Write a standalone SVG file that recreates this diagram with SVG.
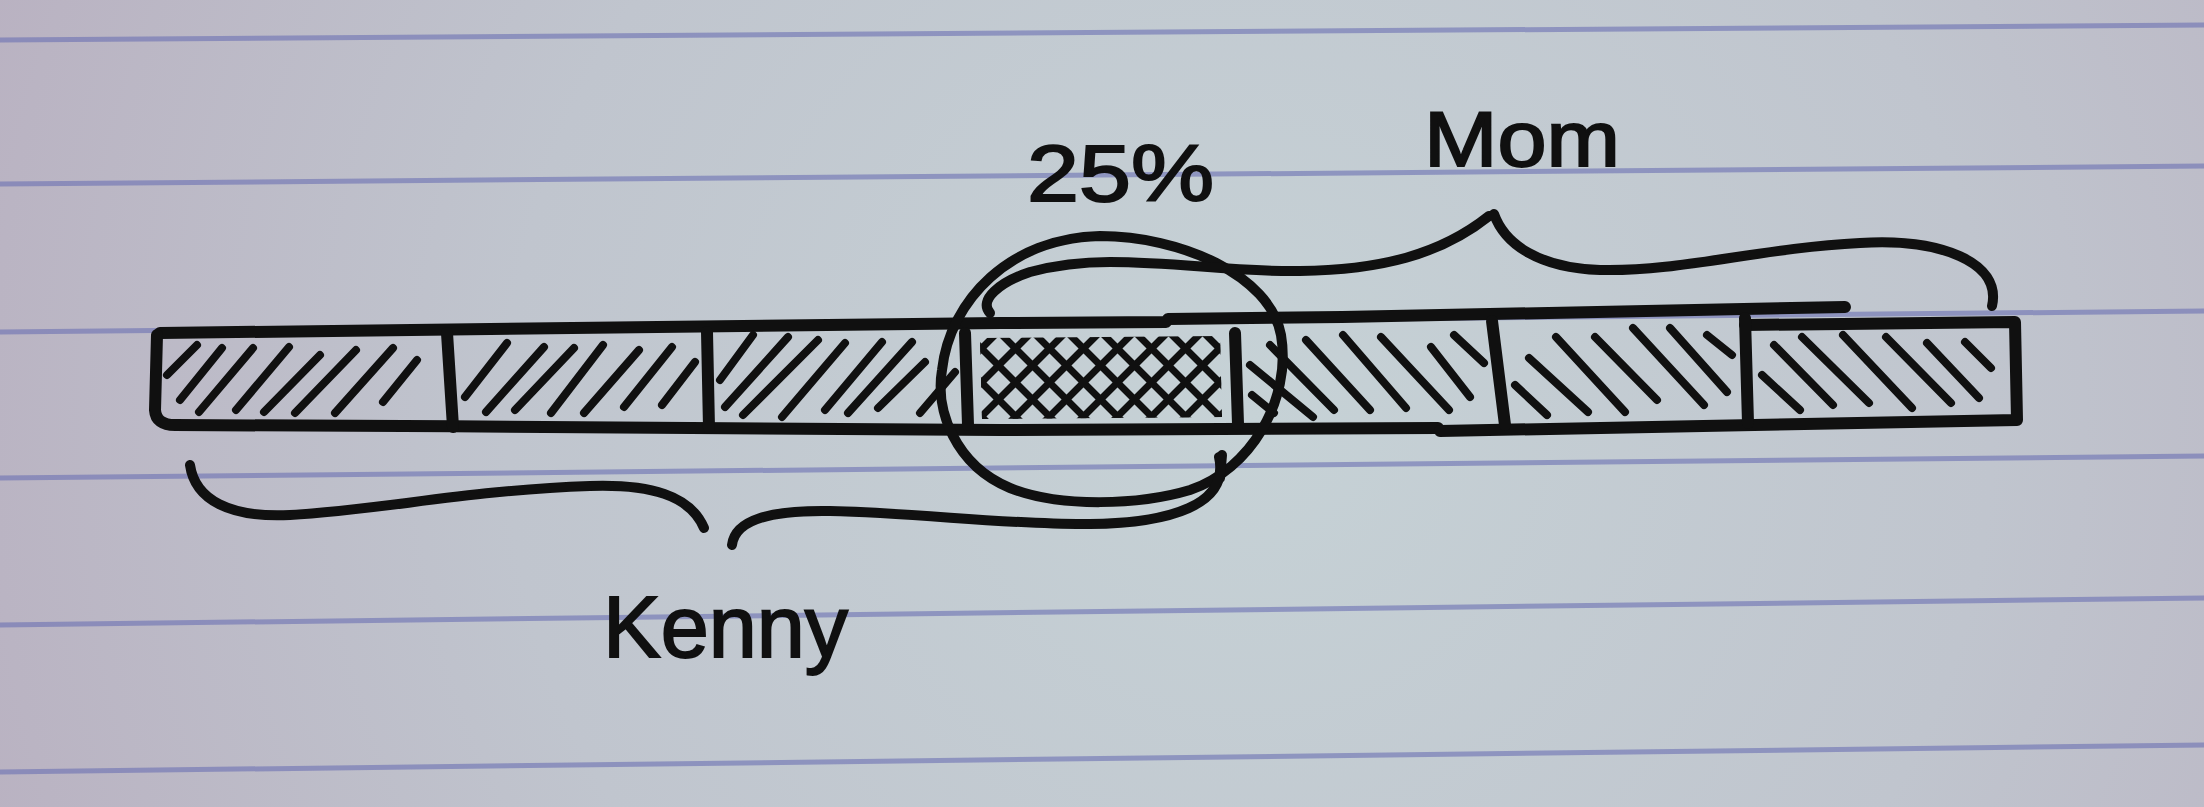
<svg xmlns="http://www.w3.org/2000/svg" width="2204" height="807" viewBox="0 0 2204 807">
<defs>
<radialGradient id="paper" gradientUnits="userSpaceOnUse" cx="1250" cy="420" r="1350">
<stop offset="0" stop-color="#c6d2d6"/>
<stop offset="0.55" stop-color="#c0c5ce"/>
<stop offset="1" stop-color="#b9b1c1"/>
</radialGradient>
<clipPath id="xclip"><polygon points="980,338 1220,336 1222,417 982,419"/></clipPath>
<style>
.rule{stroke:#6a70b2;stroke-width:5;stroke-opacity:0.6;fill:none}
.ink{stroke:#101010;fill:none;stroke-linecap:round;stroke-linejoin:round}
.edge{stroke-width:12}
.hatch{stroke-width:8}
.xh{stroke-width:7}
.curve{stroke-width:10}
.label{font-family:"Liberation Sans",Arial,sans-serif;fill:#101010;stroke:#101010;stroke-width:2}
</style>
</defs>
<g id="paper-bg">
<rect x="0" y="0" width="2204" height="807" fill="url(#paper)"/>
<line class="rule" x1="0" y1="40" x2="2204" y2="25"/>
<line class="rule" x1="0" y1="184" x2="2204" y2="166"/>
<line class="rule" x1="0" y1="332" x2="2204" y2="311"/>
<line class="rule" x1="0" y1="478" x2="2204" y2="456"/>
<line class="rule" x1="0" y1="625" x2="2204" y2="598"/>
<line class="rule" x1="0" y1="772" x2="2204" y2="745"/>
</g>
<g id="bar" class="ink edge">
<path d="M 160,333 C 400,329 700,324 1000,323 L 1166,322 L 1168,319 C 1400,317 1650,312 1845,307"/>
<path d="M 157,335 L 155,410 Q 156,425 175,425 C 450,426 740,428 1000,430 C 1200,430 1350,429 1438,428"/>
<path d="M 1440,431 C 1600,428 1800,424 2017,420 L 2015,322 L 1745,325"/>
<path d="M 447,333 L 453,427"/>
<path d="M 707,332 L 709,428"/>
<path d="M 965,333 L 968,425"/>
<path d="M 1235,333 L 1238,424"/>
<path d="M 1492,321 L 1505,425"/>
<path d="M 1745,318 L 1748,423"/>
</g>
<g id="cell-1" class="ink hatch">
<path d="M167,375L197,345M180,400L222,348M199,412L253,348M236,410L289,347M264,412L320,355M295,413L356,350M335,413L393,348M383,402L417,360"/>
</g>
<g id="cell-2" class="ink hatch">
<path d="M465,397L507,343M486,412L544,347M515,410L574,348M551,413L603,345M584,413L639,350M624,407L672,347M662,405L695,362"/>
</g>
<g id="cell-3" class="ink hatch">
<path d="M720,380L753,335M725,407L788,337M743,415L818,340M782,417L845,343M825,410L882,342M848,413L912,342M878,408L925,362M920,413L955,372"/>
</g>
<g id="cell-4" class="ink xh" clip-path="url(#xclip)">
<path d="M900,430L1010,320M934,430L1044,320M968,430L1078,320M1002,430L1112,320M1036,430L1146,320M1070,430L1180,320M1104,430L1214,320M1138,430L1248,320M1172,430L1282,320M1206,430L1316,320"/>
<path d="M885,320L995,430M919,320L1029,430M953,320L1063,430M987,320L1097,430M1021,320L1131,430M1055,320L1165,430M1089,320L1199,430M1123,320L1233,430M1157,320L1267,430M1191,320L1301,430"/>
</g>
<g id="cell-5" class="ink hatch">
<path d="M1250,365L1313,417M1252,395L1274,413M1270,345L1334,410M1306,340L1370,410M1343,335L1406,408M1381,337L1449,410M1431,347L1470,397M1454,335L1484,363"/>
</g>
<g id="cell-6" class="ink hatch">
<path d="M1515,385L1547,415M1529,358L1588,412M1556,337L1625,412M1595,337L1657,400M1633,328L1704,405M1670,328L1727,392M1707,335L1732,355"/>
</g>
<g id="cell-7" class="ink hatch">
<path d="M1762,375L1800,410M1774,345L1833,405M1802,337L1869,403M1843,335L1912,408M1886,337L1951,403M1927,343L1979,398M1965,342L1991,368"/>
</g>
<g id="highlight-circle" class="ink curve">
<path d="M 1100,236 C 1180,236 1270,275 1281,335 C 1292,400 1250,470 1190,490 C 1140,505 1060,508 1010,488 C 955,465 935,410 942,370 C 950,300 1010,238 1100,236 Z"/>
<path d="M 1222,455 L 1220,478"/>
</g>
<g id="connectors" class="ink curve">
<path id="brace-mom" d="M 990,313 C 978,300 1000,282 1030,272 C 1060,264 1090,262 1110,262 C 1180,262 1230,272 1300,271 C 1380,270 1440,255 1489,216 M 1494,214 C 1505,245 1540,268 1600,270 C 1680,272 1760,248 1860,243 C 1940,238 2002,262 1992,306"/>
<path id="brace-kenny" d="M 190,465 C 195,500 230,518 290,515 C 380,510 470,490 590,486 C 650,484 690,495 704,528 M 732,545 C 735,520 770,510 830,511 C 920,513 1010,525 1090,524 C 1170,523 1230,505 1219,457"/>
</g>
<g id="label-25">
<text class="label" x="1027" y="201" font-size="80" textLength="187" lengthAdjust="spacingAndGlyphs">25%</text>
</g>
<g id="label-mom">
<text class="label" x="1424" y="166" font-size="78" textLength="196" lengthAdjust="spacingAndGlyphs">Mom</text>
</g>
<g id="label-kenny">
<text class="label" x="603" y="657" font-size="88" textLength="245" lengthAdjust="spacingAndGlyphs">Kenny</text>
</g>
</svg>
